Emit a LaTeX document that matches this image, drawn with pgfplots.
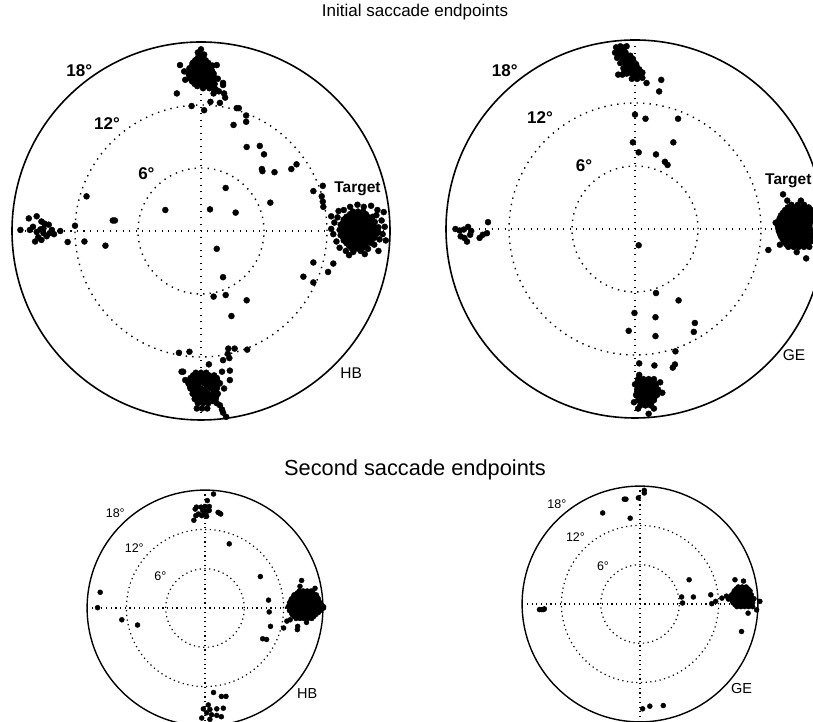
\documentclass[border=0pt]{standalone}
\usepackage{fontspec}
\setmainfont{Liberation Sans}
\usepackage{pgfplots}
\pgfplotsset{compat=1.18}
\pgfplotsset{
 panel/.style={hide axis, clip=false, xmin=-18, xmax=18, ymin=-18, ymax=18, enlargelimits=false, anchor=center},
 big/.style={panel, x=10.5pt, y=10.5pt, dots/.style={only marks, mark=*, mark size=3.0pt, black, mark options={fill=black, draw=black}}},
 small/.style={panel, x=6.55pt, y=6.55pt, dots/.style={only marks, mark=*, mark size=2.5pt, black, mark options={fill=black, draw=black}}},
}
\tikzset{
 bigdots/.style={line width=1.4pt, dash pattern=on 1.4pt off 5.1pt, line cap=butt},
 smalldots/.style={line width=1.2pt, dash pattern=on 1.2pt off 3.5pt, line cap=butt},
 bigdeg/.style={font=\bfseries\fontsize{17}{20}\selectfont},
 smalldeg/.style={font=\fontsize{12.5}{15}\selectfont},
}
\begin{document}
\begin{tikzpicture}
\useasboundingbox (0,0) rectangle (813pt,722pt);
\node[font=\fontsize{17}{20}\selectfont] at (415pt,710pt) {Initial saccade endpoints};
\node[font=\fontsize{21.8}{25}\selectfont] at (415pt,252pt) {Second saccade endpoints};

% ---------------- Top left (HB) ----------------
\begin{axis}[big, at={(201pt,491pt)}]
\draw[line width=1.6pt] (axis cs:0,0) circle[radius=189pt];
\draw[bigdots] (axis cs:0,0) circle[radius=126pt];
\draw[bigdots] (axis cs:0,0) circle[radius=63pt];
\draw[bigdots] (axis cs:-18,0) -- (axis cs:18,0);
\draw[bigdots] (axis cs:0,-18) -- (axis cs:0,18);
\node[bigdeg] at (axis cs:-11.6,15.3) {18°};
\node[bigdeg] at (axis cs:-8.95,10.2) {12°};
\node[bigdeg] at (axis cs:-5.2,5.5) {6°};
\node[font=\bfseries\fontsize{15.5}{18}\selectfont] at (axis cs:14.9,4.0) {Target};
\node[font=\fontsize{15.5}{18}\selectfont] at (axis cs:14.3,-13.5) {HB};
% top cluster
\addplot[dots] coordinates {
(0.0,17.3)(-0.3,17.0)(0.3,16.8)(-0.3,16.5)(0.2,16.5)
(-0.8,16.0)(-0.3,16.0)(0.2,16.0)(0.7,16.0)
(-1.1,15.5)(-0.6,15.5)(-0.1,15.5)(0.4,15.5)(0.9,15.5)
(-1.2,15.0)(-0.7,15.0)(-0.2,15.0)(0.3,15.0)(0.8,15.0)(1.2,15.0)
(-1.0,14.5)(-0.5,14.5)(0.0,14.5)(0.5,14.5)(1.0,14.5)
(-0.6,14.0)(-0.1,14.0)(0.4,14.0)(0.9,14.0)(1.3,14.0)
(0.2,13.6)(0.8,13.6)(1.4,13.5)
(-0.05,16.75)(-0.55,16.25)(-0.05,16.25)(0.45,16.25)
(-0.85,15.75)(-0.35,15.75)(0.15,15.75)(0.65,15.75)(1.1,15.75)
(-0.95,15.25)(-0.45,15.25)(0.05,15.25)(0.55,15.25)(1.05,15.25)
(-1.1,14.75)(-0.75,14.75)(-0.25,14.75)(0.25,14.75)(0.75,14.75)(1.2,14.75)
(-0.85,14.25)(-0.35,14.25)(0.15,14.25)(0.65,14.25)(1.15,14.25)
(-0.35,13.8)(0.15,13.8)(0.6,13.8)(1.1,13.8)
(-2.0,15.8)(-1.5,14.4)(1.5,15.8)(2.1,13.9)(2.2,13.1)(1.3,13.4)(-1.6,15.2)(1.6,14.5)(1.7,13.3)(1.2,13.1)
(-2.3,13.1)(-0.9,11.9)(0.3,11.5)(0.9,12.3)(1.8,12.2)(2.3,12.7)(2.1,14.1)
};
% scattered
\addplot[dots] coordinates {
(3.4,11.7)(3.6,11.7)(3.1,10.1)(4.3,11.0)(4.3,10.4)(4.35,8.0)(5.6,8.1)(6.0,7.3)(5.8,5.9)(5.85,5.7)(7.0,5.6)
(8.6,5.9)(9.1,6.35)(6.6,2.7)(10.7,3.8)(11.6,4.3)(11.5,3.3)(11.6,2.8)(11.65,2.3)(12.4,1.4)
(2.35,4.1)(0.86,2.06)(3.3,1.75)(-3.4,2.0)(1.5,-1.7)
(-10.9,3.3)(-8.4,1.0)(-8.2,1.0)(-12.0,0.5)(-12.7,-1.05)(-11.1,-1.0)(-9.1,-1.4)
(10.7,-3.0)(12.6,-3.1)(12.1,-3.9)(9.75,-4.35)(10.7,-4.9)
(2.1,-4.4)(1.2,-6.25)(2.35,-6.1)(4.35,-6.6)(2.9,-8.1)
(-2.1,-11.6)(-1.1,-11.5)(2.6,-11.2)(3.2,-11.2)(4.4,-11.3)(2.55,-11.7)(2.7,-12.1)(2.1,-12.3)(0.75,-12.7)(2.75,-13.3)
};
% left cluster
\addplot[dots] coordinates {
(-17.2,0.1)(-16.4,1.2)(-15.65,1.4)(-15.2,0.9)(-16.0,0.4)(-15.65,-0.1)(-15.0,0.25)(-14.5,0.6)(-14.2,0.1)
(-14.0,-0.3)(-14.7,-0.5)(-15.2,-0.85)(-15.8,-1.0)(-16.3,0.1)(-13.4,0.0)(-14.4,-0.2)(-15.0,-0.2)(-15.3,0.15)(-14.9,0.7)(-15.5,-0.6)
};
% target cluster
\addplot[dots] coordinates {
(14.2,1.6)(14.7,1.6)(15.2,1.6)(15.7,1.6)
(13.6,1.1)(14.1,1.1)(14.6,1.1)(15.1,1.1)(15.6,1.1)(16.1,1.1)
(13.3,0.6)(13.8,0.6)(14.3,0.6)(14.8,0.6)(15.3,0.6)(15.8,0.6)(16.3,0.6)
(13.2,0.1)(13.7,0.1)(14.2,0.1)(14.7,0.1)(15.2,0.1)(15.7,0.1)(16.2,0.1)(16.7,0.1)
(13.3,-0.4)(13.8,-0.4)(14.3,-0.4)(14.8,-0.4)(15.3,-0.4)(15.8,-0.4)(16.3,-0.4)(16.6,-0.4)
(13.6,-0.9)(14.1,-0.9)(14.6,-0.9)(15.1,-0.9)(15.6,-0.9)(16.1,-0.9)
(14.1,-1.4)(14.6,-1.4)(15.1,-1.4)(15.6,-1.4)
(14.45,1.85)(14.95,1.85)(15.45,1.85)
(13.85,1.35)(14.35,1.35)(14.85,1.35)(15.35,1.35)(15.85,1.35)(16.35,1.35)
(13.55,0.85)(14.05,0.85)(14.55,0.85)(15.05,0.85)(15.55,0.85)(16.05,0.85)(16.55,0.85)
(13.45,0.35)(13.95,0.35)(14.45,0.35)(14.95,0.35)(15.45,0.35)(15.95,0.35)(16.45,0.35)(16.9,0.35)
(13.45,-0.15)(13.95,-0.15)(14.45,-0.15)(14.95,-0.15)(15.45,-0.15)(15.95,-0.15)(16.45,-0.15)(16.9,-0.15)
(13.55,-0.65)(14.05,-0.65)(14.55,-0.65)(15.05,-0.65)(15.55,-0.65)(16.05,-0.65)(16.5,-0.65)
(13.85,-1.15)(14.35,-1.15)(14.85,-1.15)(15.35,-1.15)(15.85,-1.15)(16.25,-1.15)
(14.35,-1.65)(14.85,-1.65)(15.35,-1.65)
(13.0,1.3)(12.7,0.8)(12.6,-0.3)(12.9,-1.0)(13.2,-1.6)(13.8,-1.9)(14.5,-2.0)(15.2,-1.9)(15.9,-1.7)(16.5,-1.3)
(17.0,-0.8)(17.3,-0.3)(17.5,0.4)(17.2,1.0)(17.4,1.8)(16.8,2.0)(16.2,2.4)(15.5,2.3)(14.9,2.5)(14.2,2.3)
(13.6,2.0)(13.1,1.9)(16.7,1.5)(12.4,0.2)(16.9,-1.9)(14.1,-2.3)(15.6,-2.2)(17.6,-0.9)
};
% bottom cluster
\addplot[dots] coordinates {
(-0.5,-13.5)(0.0,-13.5)(0.5,-13.5)
(-1.0,-14.0)(-0.5,-14.0)(0.0,-14.0)(0.5,-14.0)(1.0,-14.0)(1.5,-14.0)
(-1.2,-14.5)(-0.7,-14.5)(-0.2,-14.5)(0.3,-14.5)(0.8,-14.5)(1.3,-14.5)(1.8,-14.5)
(-1.0,-15.0)(-0.5,-15.0)(0.0,-15.0)(0.5,-15.0)(1.0,-15.0)(1.5,-15.0)
(-0.8,-15.5)(-0.3,-15.5)(0.2,-15.5)(0.7,-15.5)(1.2,-15.5)(1.6,-15.5)
(-0.6,-16.0)(-0.1,-16.0)(0.4,-16.0)(0.9,-16.0)(1.4,-16.0)
(-0.3,-16.4)(0.2,-16.4)(0.7,-16.4)(1.5,-16.4)
(-0.75,-13.75)(-0.25,-13.75)(0.25,-13.75)(0.75,-13.75)(1.25,-13.75)
(-0.95,-14.25)(-0.45,-14.25)(0.05,-14.25)(0.55,-14.25)(1.05,-14.25)(1.55,-14.25)
(-0.95,-14.75)(-0.45,-14.75)(0.55,-14.75)(1.05,-14.75)(1.55,-14.75)
(-0.75,-15.25)(-0.25,-15.25)(0.25,-15.25)(1.25,-15.25)
(-0.55,-15.75)(-0.05,-15.75)(0.45,-15.75)(0.95,-15.75)(1.45,-15.75)
(-0.35,-16.2)(0.15,-16.2)(0.65,-16.2)(1.15,-16.2)
(-1.7,-13.4)(-1.85,-13.4)(-1.5,-14.2)(-1.05,-14.8)
(-0.4,-16.9)(0.1,-16.9)(0.6,-16.9)
(1.8,-16.6)(2.0,-17.0)(2.1,-17.3)(2.4,-17.7)
(2.0,-13.4)(2.75,-14.2)(2.2,-15.0)
};
\end{axis}

% ---------------- Top right (GE) ----------------
\begin{axis}[big, at={(635pt,493pt)}]
\draw[line width=1.6pt] (axis cs:0,0) circle[radius=189pt];
\draw[bigdots] (axis cs:0,0) circle[radius=126pt];
\draw[bigdots] (axis cs:0,0) circle[radius=63pt];
\draw[bigdots] (axis cs:-18,0) -- (axis cs:18,0);
\draw[bigdots] (axis cs:0,-18) -- (axis cs:0,18);
\node[bigdeg] at (axis cs:-12.4,15.1) {18°};
\node[bigdeg] at (axis cs:-9.05,10.6) {12°};
\node[bigdeg] at (axis cs:-4.85,6.05) {6°};
\node[font=\bfseries\fontsize{15.5}{18}\selectfont] at (axis cs:14.6,4.6) {Target};
\node[font=\fontsize{15.5}{18}\selectfont] at (axis cs:15.15,-12.0) {GE};
% top cluster
\addplot[dots] coordinates {
(-1.8,17.3)(-1.4,17.4)(-1.0,17.3)(-1.9,16.8)(-1.4,16.8)(-0.9,16.8)(-1.7,16.3)(-1.2,16.3)(-0.7,16.3)(-0.2,16.2)
(-1.4,15.8)(-0.9,15.8)(-0.4,15.8)(0.1,15.7)(-1.1,15.3)(-0.6,15.3)(-0.1,15.3)(0.4,15.2)
(-0.8,14.8)(-0.3,14.8)(0.2,14.8)(0.7,14.9)(-0.3,14.3)(0.2,14.3)(0.7,14.4)(-1.6,14.7)(-1.2,14.7)
(-1.65,17.05)(-1.15,17.05)(-1.45,16.55)(-0.95,16.55)(-0.45,16.5)(-1.15,16.05)(-0.65,16.05)(-0.15,16.0)
(-0.85,15.55)(-0.35,15.55)(0.15,15.5)(-0.55,15.05)(-0.05,15.05)(0.45,15.0)(-0.05,14.55)(0.45,14.6)(-1.0,15.0)
(-0.8,17.4)(-1.6,17.2)(1.1,13.9)(2.5,14.2)(2.3,13.1)
};
\addplot[dots] coordinates {
(0.0,10.9)(1.0,10.5)(4.1,10.5)(-0.2,8.25)(3.65,8.25)(0.35,7.3)(2.0,7.1)(2.85,6.4)(3.1,6.1)(0.35,-1.55)
(2.0,-6.1)(4.15,-6.8)(-0.05,-8.0)(1.95,-8.4)(5.7,-8.95)(-0.6,-9.7)(1.95,-10.2)(5.6,-9.8)(3.85,-11.65)
(0.4,-12.8)(1.85,-13.0)(3.8,-12.9)(3.6,-13.2)
};
% bottom cluster
\addplot[dots] coordinates {
(0.3,-14.3)(0.8,-14.3)(1.3,-14.3)(1.8,-14.3)
(0.0,-14.8)(0.5,-14.8)(1.0,-14.8)(1.5,-14.8)(2.0,-14.8)
(0.2,-15.3)(0.7,-15.3)(1.2,-15.3)(1.7,-15.3)(2.2,-15.3)
(0.1,-15.8)(0.6,-15.8)(1.1,-15.8)(1.6,-15.8)(2.1,-15.8)
(0.3,-16.3)(0.8,-16.3)(1.3,-16.3)(1.8,-16.3)
(0.5,-16.8)(1.0,-16.8)(1.5,-16.8)
(0.25,-14.55)(0.75,-14.55)(1.25,-14.55)(1.75,-14.55)
(0.45,-15.05)(0.95,-15.05)(1.45,-15.05)(1.95,-15.05)
(0.35,-15.55)(0.85,-15.55)(1.35,-15.55)(1.85,-15.55)
(0.35,-16.05)(0.85,-16.05)(1.35,-16.05)(1.85,-16.05)
(0.55,-16.55)(1.05,-16.55)(1.55,-16.55)
(0.3,-17.1)(1.8,-17.1)(1.3,-17.6)(2.4,-14.6)(-0.1,-16.5)(0.4,-13.9)(2.6,-15.6)
};
% left cluster
\addplot[dots] coordinates {
(-17.1,0.0)(-16.7,-0.15)(-16.3,-0.05)(-15.6,-0.2)(-16.25,-0.85)(-16.6,-0.7)(-16.0,-1.2)(-15.7,-0.55)
(-14.8,-0.85)(-14.5,-0.55)(-14.1,-0.4)(-14.0,0.65)(-15.9,0.2)
};
% target cluster
\addplot[dots] coordinates {
(14.9,2.3)(15.5,2.3)(16.1,2.3)
(14.3,1.8)(14.8,1.8)(15.3,1.8)(15.8,1.8)(16.3,1.8)(16.8,1.8)
(13.9,1.3)(14.4,1.3)(14.9,1.3)(15.4,1.3)(15.9,1.3)(16.4,1.3)(16.9,1.3)
(13.7,0.8)(14.2,0.8)(14.7,0.8)(15.2,0.8)(15.7,0.8)(16.2,0.8)(16.7,0.8)
(13.6,0.3)(14.1,0.3)(14.6,0.3)(15.1,0.3)(15.6,0.3)(16.1,0.3)(16.6,0.3)
(13.7,-0.2)(14.2,-0.2)(14.7,-0.2)(15.2,-0.2)(15.7,-0.2)(16.2,-0.2)(16.7,-0.2)
(13.9,-0.7)(14.4,-0.7)(14.9,-0.7)(15.4,-0.7)(15.9,-0.7)(16.4,-0.7)(16.9,-0.7)
(14.2,-1.2)(14.7,-1.2)(15.2,-1.2)(15.7,-1.2)(16.2,-1.2)(16.7,-1.2)
(14.6,-1.7)(15.1,-1.7)(15.6,-1.7)(16.1,-1.7)(16.6,-1.7)
(14.55,2.05)(15.05,2.05)(15.55,2.05)(16.05,2.05)(16.55,2.05)
(14.1,1.55)(14.6,1.55)(15.1,1.55)(15.6,1.55)(16.1,1.55)(16.6,1.55)
(13.8,1.05)(14.3,1.05)(14.8,1.05)(15.3,1.05)(15.8,1.05)(16.3,1.05)(16.8,1.05)
(13.65,0.55)(14.15,0.55)(14.65,0.55)(15.15,0.55)(15.65,0.55)(16.15,0.55)(16.65,0.55)
(13.65,0.05)(14.15,0.05)(14.65,0.05)(15.15,0.05)(15.65,0.05)(16.15,0.05)(16.65,0.05)
(13.8,-0.45)(14.3,-0.45)(14.8,-0.45)(15.3,-0.45)(15.8,-0.45)(16.3,-0.45)(16.8,-0.45)
(14.05,-0.95)(14.55,-0.95)(15.05,-0.95)(15.55,-0.95)(16.05,-0.95)(16.55,-0.95)
(14.4,-1.45)(14.9,-1.45)(15.4,-1.45)(15.9,-1.45)(16.4,-1.45)
(14.1,3.3)(12.7,-2.0)(16.3,-2.8)(15.4,-2.2)(13.8,-1.5)(14.5,2.7)(15.8,2.7)(13.4,0.6)
};
\end{axis}

% ---------------- Bottom left (HB) ----------------
\begin{axis}[small, at={(205pt,114pt)}]
\draw[line width=1.4pt] (axis cs:0,0) circle[radius=117.9pt];
\draw[smalldots] (axis cs:0,0) circle[radius=78.6pt];
\draw[smalldots] (axis cs:0,0) circle[radius=39.3pt];
\draw[smalldots] (axis cs:-18,0) -- (axis cs:18,0);
\draw[smalldots] (axis cs:0,-18) -- (axis cs:0,18);
\node[smalldeg] at (axis cs:-13.7,14.4) {18°};
\node[smalldeg] at (axis cs:-10.8,9.1) {12°};
\node[smalldeg] at (axis cs:-6.8,4.8) {6°};
\node[font=\fontsize{14.5}{17}\selectfont] at (axis cs:15.6,-13.1) {HB};
\addplot[dots] coordinates {
(1.3,17.4)(0.35,16.4)(-1.3,15.4)(-1.5,15.1)(-0.6,15.4)(0.0,15.5)(0.65,15.5)(0.65,14.9)(0.0,14.5)(-1.0,14.35)
(-1.7,13.4)(-1.4,14.1)(-0.5,14.1)(0.25,14.0)(2.2,14.5)(2.4,14.35)(2.0,14.6)(0.4,14.8)(-0.35,14.9)
(3.7,9.8)(8.45,4.8)(9.7,1.2)(9.8,-0.6)(10.0,-2.8)(8.8,-4.7)(9.4,-4.8)
(-16.0,2.4)(-16.4,0.05)(-12.7,-1.8)(-10.3,-2.6)
(1.3,-12.9)(2.5,-13.5)(3.2,-13.5)(0.5,-14.8)(-0.25,-15.4)(0.75,-15.5)(1.8,-15.4)(2.8,-15.3)
(0.25,-16.0)(1.0,-16.3)(1.8,-16.4)(-0.5,-16.8)(2.5,-16.6)(0.75,-17.0)
};
\addplot[dots] coordinates {
(14.4,2.6)(15.0,2.6)(15.6,2.6)(16.2,2.6)
(13.6,2.0)(14.2,2.0)(14.8,2.0)(15.4,2.0)(16.0,2.0)(16.6,2.0)(17.0,2.0)
(13.2,1.4)(13.8,1.4)(14.4,1.4)(15.0,1.4)(15.6,1.4)(16.2,1.4)(16.8,1.4)(17.3,1.4)
(12.9,0.8)(13.5,0.8)(14.1,0.8)(14.7,0.8)(15.3,0.8)(15.9,0.8)(16.5,0.8)(17.1,0.8)(17.6,0.8)
(12.7,0.2)(13.3,0.2)(13.9,0.2)(14.5,0.2)(15.1,0.2)(15.7,0.2)(16.3,0.2)(16.9,0.2)(17.5,0.2)(18.1,0.2)
(12.9,-0.4)(13.5,-0.4)(14.1,-0.4)(14.7,-0.4)(15.3,-0.4)(15.9,-0.4)(16.5,-0.4)(17.1,-0.4)(17.6,-0.4)
(13.3,-1.0)(13.9,-1.0)(14.5,-1.0)(15.1,-1.0)(15.7,-1.0)(16.3,-1.0)(16.9,-1.0)
(13.9,-1.6)(14.5,-1.6)(15.1,-1.6)(15.7,-1.6)(16.3,-1.6)
(14.1,2.3)(14.7,2.3)(15.3,2.3)(15.9,2.3)(16.5,2.3)
(13.5,1.7)(14.1,1.7)(14.7,1.7)(15.3,1.7)(15.9,1.7)(16.5,1.7)(17.1,1.7)
(13.1,1.1)(13.7,1.1)(14.3,1.1)(14.9,1.1)(15.5,1.1)(16.1,1.1)(16.7,1.1)(17.3,1.1)
(13.0,0.5)(13.6,0.5)(14.2,0.5)(14.8,0.5)(15.4,0.5)(16.0,0.5)(16.6,0.5)(17.2,0.5)(17.8,0.5)
(13.0,-0.1)(13.6,-0.1)(14.2,-0.1)(14.8,-0.1)(15.4,-0.1)(16.0,-0.1)(16.6,-0.1)(17.2,-0.1)(17.8,-0.1)
(13.2,-0.7)(13.8,-0.7)(14.4,-0.7)(15.0,-0.7)(15.6,-0.7)(16.2,-0.7)(16.8,-0.7)(17.3,-0.7)
(13.6,-1.3)(14.2,-1.3)(14.8,-1.3)(15.4,-1.3)(16.0,-1.3)(16.6,-1.3)
(14.75,4.2)(14.5,3.3)(12.5,-2.0)(12.0,-3.05)(13.0,-1.8)(14.15,-2.8)(14.1,-3.3)(15.5,-2.2)(18.1,0.0)(16.8,3.0)
};
\end{axis}

% ---------------- Bottom right (GE) ----------------
\begin{axis}[small, at={(640pt,118pt)}]
\draw[line width=1.4pt] (axis cs:0,0) circle[radius=117.9pt];
\draw[smalldots] (axis cs:0,0) circle[radius=78.6pt];
\draw[smalldots] (axis cs:0,0) circle[radius=39.3pt];
\draw[smalldots] (axis cs:-18,0) -- (axis cs:18,0);
\draw[smalldots] (axis cs:0,-18) -- (axis cs:0,18);
\node[smalldeg] at (axis cs:-12.7,15.3) {18°};
\node[smalldeg] at (axis cs:-9.85,10.15) {12°};
\node[smalldeg] at (axis cs:-5.65,5.8) {6°};
\node[font=\fontsize{14.5}{17}\selectfont] at (axis cs:15.5,-12.9) {GE};
\addplot[dots] coordinates {
(0.65,17.35)(0.65,16.95)(-0.25,16.2)(-2.4,16.0)(-2.15,16.0)(-5.7,13.9)(-1.5,13.1)
(7.5,3.7)(6.35,1.07)(8.15,1.07)(6.5,0.15)(10.8,1.4)(10.95,0.05)(11.55,0.4)(12.5,0.9)
(-15.0,-0.85)(-14.75,-0.85)(-15.35,-0.85)(-14.6,-0.75)
(15.5,-4.2)(0.4,-16.0)(1.5,-15.6)(3.55,-15.5)
};
\addplot[dots] coordinates {
(15.0,2.6)(15.6,2.6)(16.2,2.6)
(14.4,2.0)(15.0,2.0)(15.6,2.0)(16.2,2.0)(16.8,2.0)
(14.0,1.4)(14.6,1.4)(15.2,1.4)(15.8,1.4)(16.4,1.4)(17.0,1.4)
(13.8,0.8)(14.4,0.8)(15.0,0.8)(15.6,0.8)(16.2,0.8)(16.8,0.8)(17.4,0.8)
(14.2,0.2)(14.8,0.2)(15.4,0.2)(16.0,0.2)(16.6,0.2)(17.2,0.2)
(14.8,-0.4)(15.4,-0.4)(16.0,-0.4)(16.6,-0.4)(17.2,-0.4)
(14.7,2.3)(15.3,2.3)(15.9,2.3)(16.5,2.3)
(14.3,1.7)(14.9,1.7)(15.5,1.7)(16.1,1.7)(16.7,1.7)
(13.9,1.1)(14.5,1.1)(15.1,1.1)(15.7,1.1)(16.3,1.1)(16.9,1.1)
(14.1,0.5)(14.7,0.5)(15.3,0.5)(15.9,0.5)(16.5,0.5)(17.1,0.5)
(14.5,-0.1)(15.1,-0.1)(15.7,-0.1)(16.3,-0.1)(16.9,-0.1)
(14.5,3.7)(15.8,3.5)(16.5,-1.4)(17.8,-0.9)(18.3,0.4)(13.5,0.75)(13.2,1.2)
};
\end{axis}
\end{tikzpicture}
\end{document}
